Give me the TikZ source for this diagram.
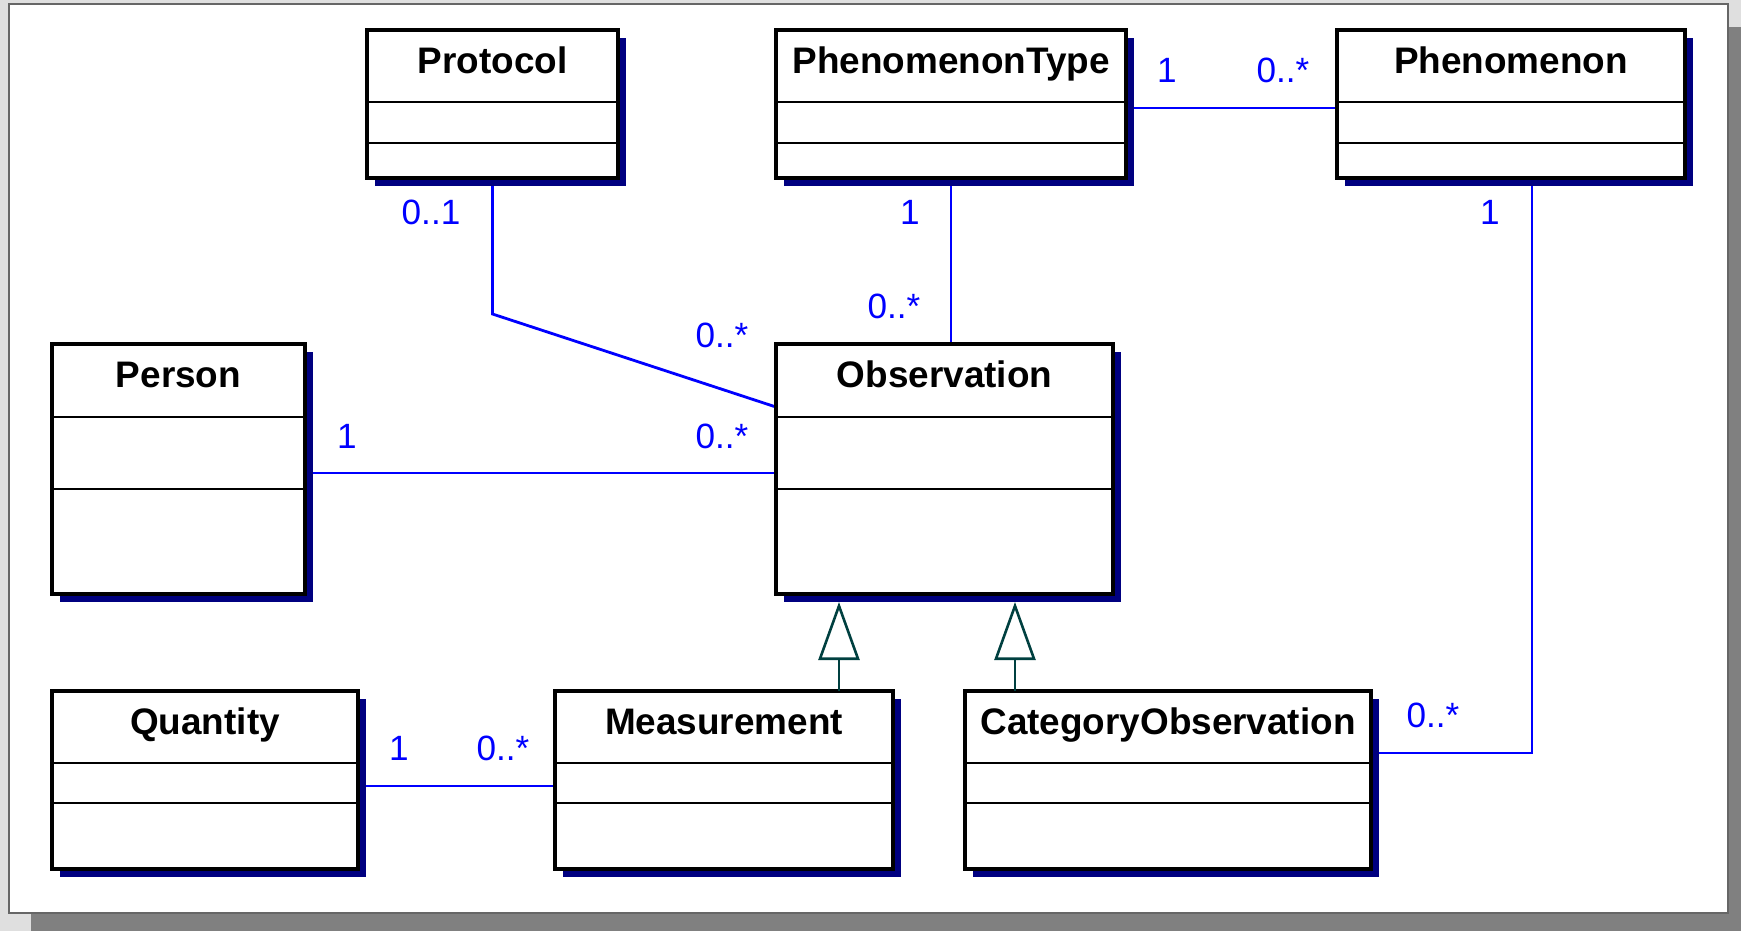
\documentclass[tikz,border=0pt]{standalone}
\usepackage{fontspec}
\setmainfont{Liberation Sans}
\usetikzlibrary{arrows.meta, shadows, positioning}

\definecolor{umlblue}{RGB}{0,0,255}
\definecolor{umlnavy}{RGB}{0,0,128}
\definecolor{umlteal}{RGB}{0,64,64}

\pgfdeclarelayer{back}
\pgfdeclarelayer{lines}
\pgfsetlayers{back,lines,main}

\begin{document}
\begin{tikzpicture}[
  x=0.1mm, y=-0.1mm,
  % Class styles
  classbox/.style={
    rectangle, draw=black, fill=white, line width=0.34mm,
    inner sep=0pt, outer sep=0pt,
    drop shadow={shadow xshift=0.8mm, shadow yshift=-0.8mm,
                 fill=umlnavy, opacity=1}
  },
  classtitle/.style={
    anchor=base, inner sep=0pt,
    font=\fontsize{10.5}{12}\selectfont\bfseries
  },
  divider/.style={line width=0.26mm},
  % Connector styles
  assoc/.style={draw=umlblue, line width=0.28mm},
  mult/.style={text=umlblue, inner sep=0pt, font=\fontsize{10}{12}\selectfont},
  gen/.style={
    draw=umlteal, line width=0.26mm, shorten >=0.8mm,
    -{Triangle[open, length=5.8mm, width=4.1mm, fill=white]}
  }
]

\useasboundingbox (0,0) rectangle (1741,931);

%% ── Window frame ─────────────────────────────────────────────
\begin{pgfonlayer}{back}
  \fill[gray!25] (0,0) rectangle (1741,931);
  \fill[gray] (31,27) rectangle (1741,931);
  \draw[fill=white, draw=black!60, line width=0.15mm] (9,4) rectangle (1728,913);
\end{pgfonlayer}

%% ── Top row ──────────────────────────────────────────────────
\node[classbox, minimum width=25.1mm, minimum height=14.8mm]
  (protocol) at (492.5,104) {};
\node[classbox, minimum width=35.0mm, minimum height=14.8mm,
  right=15.8mm of protocol] (phentype) {};
\node[classbox, minimum width=34.8mm, minimum height=14.8mm,
  right=21.1mm of phentype] (phenomenon) {};

%% ── Middle row ───────────────────────────────────────────────
\node[classbox, minimum width=25.3mm, minimum height=25.0mm]
  (person) at (178.5,469) {};
\node[classbox, minimum width=33.7mm, minimum height=25.0mm,
  right=47.1mm of person] (observation) {};

%% ── Bottom row ───────────────────────────────────────────────
\node[classbox, minimum width=30.6mm, minimum height=17.8mm]
  (quantity) at (205,780) {};
\node[classbox, minimum width=33.8mm, minimum height=17.8mm,
  right=19.7mm of quantity] (measurement) {};
\node[classbox, minimum width=40.6mm, minimum height=17.8mm,
  right=7.2mm of measurement] (catobs) {};

%% ── Compartments and names ───────────────────────────────────
\foreach \c/\a/\b in {protocol/7.2/11.3, phentype/7.2/11.3,
    phenomenon/7.2/11.3, person/7.3/14.5, observation/7.3/14.5,
    quantity/7.2/11.2, measurement/7.2/11.2, catobs/7.2/11.2} {
  \draw[divider] ([yshift=-\a mm]\c.north west) -- ([yshift=-\a mm]\c.north east);
  \draw[divider] ([yshift=-\b mm]\c.north west) -- ([yshift=-\b mm]\c.north east);
}

\node[classtitle] (protocol-t)    at ([yshift=-4.3mm]protocol.north)    {Protocol};
\node[classtitle] (phentype-t)    at ([yshift=-4.3mm]phentype.north)    {PhenomenonType};
\node[classtitle] (phenomenon-t)  at ([yshift=-4.3mm]phenomenon.north)  {Phenomenon};
\node[classtitle] (person-t)      at ([yshift=-4.3mm]person.north)      {Person};
\node[classtitle] (observation-t) at ([yshift=-4.3mm]observation.north) {Observation};
\node[classtitle] (quantity-t)    at ([yshift=-4.3mm]quantity.north)    {Quantity};
\node[classtitle] (measurement-t) at ([yshift=-4.3mm]measurement.north) {Measurement};
\node[classtitle] (catobs-t)      at ([yshift=-4.3mm]catobs.north)      {CategoryObservation};

%% ── Associations ─────────────────────────────────────────────
\begin{pgfonlayer}{lines}
  \draw[assoc] (protocol.south) -- ++(0,136) -- ([yshift=6.2mm]observation.west);
  \draw[assoc] (phentype.south) -- (phentype.south |- observation.north);
  \draw[assoc] ([yshift=-0.4mm]phentype.east) -- ([yshift=-0.4mm]phenomenon.west);
  \draw[assoc] ([xshift=2.1mm]phenomenon.south) |- ([yshift=2.7mm]catobs.east);
  \draw[assoc] ([yshift=-0.4mm]person.east) -- ([yshift=-0.4mm]observation.west);
  \draw[assoc] ([yshift=-0.6mm]quantity.east) -- ([yshift=-0.6mm]measurement.west);
\end{pgfonlayer}

%% ── Multiplicities ───────────────────────────────────────────
\node[mult] (m-prot)      at (431,212)  {0..1};
\node[mult] (m-obs-prot)  at (722,335)  {0..*};
\node[mult] (m-ptype)     at (910,212)  {1};
\node[mult] (m-obs-ptype) at (894,306)  {0..*};
\node[mult] (m-ptype-ph)  at (1167,70)  {1};
\node[mult] (m-ph-ptype)  at (1283,70)  {0..*};
\node[mult] (m-ph)        at (1490,212) {1};
\node[mult] (m-catobs)    at (1433,715) {0..*};
\node[mult] (m-person)    at (347,436)  {1};
\node[mult] (m-obs-pers)  at (722,436)  {0..*};
\node[mult] (m-quantity)  at (399,748)  {1};
\node[mult] (m-meas)      at (503,748)  {0..*};

%% ── Generalizations ──────────────────────────────────────────
\draw[gen] ([xshift=11.5mm]measurement.north)
  -- ([xshift=11.5mm]measurement.north |- observation.south);
\draw[gen] ([xshift=-15.3mm]catobs.north)
  -- ([xshift=-15.3mm]catobs.north |- observation.south);

\end{tikzpicture}
\end{document}
